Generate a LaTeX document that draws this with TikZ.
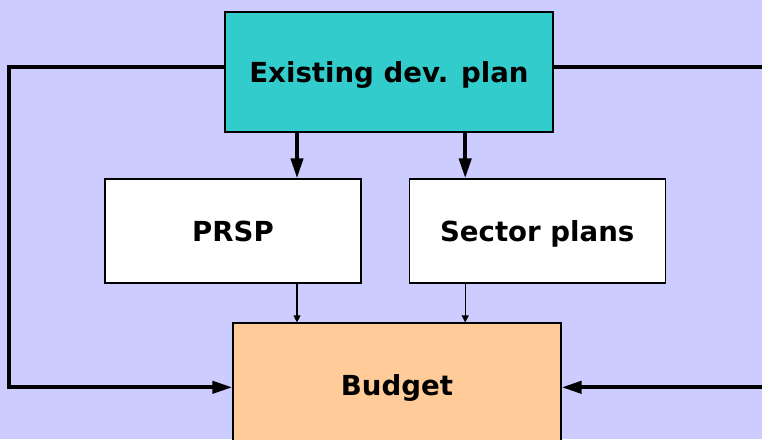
\documentclass[tikz,border=0pt]{standalone}
\usepackage{fontspec}
\setmainfont{DejaVu Sans}
\usetikzlibrary{arrows.meta,positioning,calc}
\definecolor{bglav}{RGB}{204,204,255}
\definecolor{planteal}{RGB}{51,204,204}
\definecolor{budgetor}{RGB}{255,204,153}
\tikzstyle{bx}=[rectangle,draw=black,line width=1.2pt,text depth=0pt,font=\fontsize{27.6}{30}\selectfont\bfseries]
\tikzstyle{wb}=[bx,fill=white,minimum width=256pt,minimum height=104pt]
\tikzstyle{tb}=[bx,fill=planteal,minimum width=328pt,minimum height=120pt]
\tikzstyle{ob}=[bx,fill=budgetor,minimum width=328pt,minimum height=124pt]
\tikzstyle{bigArrow}=[line width=4pt,-{Triangle[length=20pt,width=12pt]}]
\tikzstyle{thinArrow}=[line width=1.2pt,-{Triangle[length=7pt,width=7pt]}]
\tikzstyle{sideArrow}=[line width=4pt,line join=miter,-{Triangle[length=20pt,width=12pt]}]

\begin{document}
\begin{tikzpicture}[x=1pt,y=-1pt]
    \fill[bglav] (0,0) rectangle (762,439);
    \useasboundingbox (0,0) rectangle (762,439);

    \node (plan) [tb] at (389,72) {Existing dev. plan};
    \node (prsp) [wb] at (233,231) {PRSP};
    \node (sector) [wb,right=47pt of prsp] {Sector plans};
    \node (budget) [ob] at (397,385) {Budget};

    \coordinate (p1) at ([xshift=64pt]prsp.north);
    \coordinate (s1) at ([xshift=-72pt]sector.north);
    \draw[bigArrow] (plan.south -| p1) -- (p1);
    \draw[bigArrow] (plan.south -| s1) -- (s1);
    \draw[thinArrow] (prsp.south -| p1) -- (budget.north -| p1);
    \draw[thinArrow] (sector.south -| s1) -- (budget.north -| s1);

    % loops round the sides
    \coordinate (lc) at (9.3,200);
    \coordinate (rc) at (775,200);
    \draw[sideArrow] ([yshift=4.7pt]plan.west) -| (lc) |- ([yshift=-2.3pt]budget.west);
    \draw[sideArrow] ([yshift=4.7pt]plan.east) -| (rc) |- ([yshift=-2.3pt]budget.east);
\end{tikzpicture}
\end{document}
